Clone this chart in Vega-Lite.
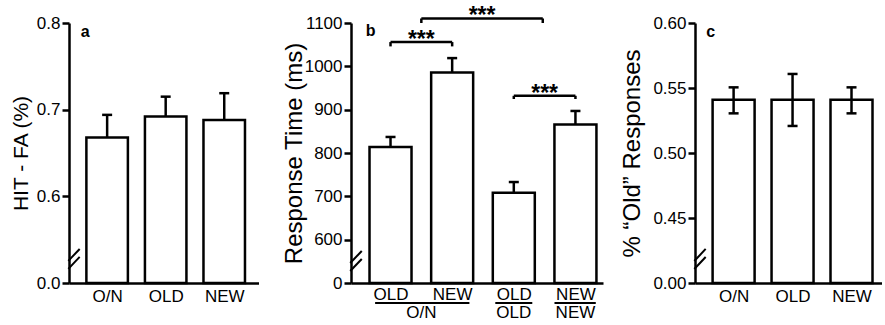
{
  "$schema": "https://vega.github.io/schema/vega-lite/v6.json",
  "padding": {"left": 10, "top": 5, "right": 0, "bottom": 0},
  "bounds": "flush",
  "spacing": 92,
  "datasets": {
    "panelA": [
      {"i": 1, "label": "O/N", "mean": 0.668, "hi": 0.694},
      {"i": 2, "label": "OLD", "mean": 0.692, "hi": 0.715},
      {"i": 3, "label": "NEW", "mean": 0.688, "hi": 0.719}
    ],
    "panelB": [
      {"i": 1, "label": "OLD", "mean": 814, "hi": 837},
      {"i": 2, "label": "NEW", "mean": 986, "hi": 1019},
      {"i": 3, "label": "OLD", "mean": 708, "hi": 733},
      {"i": 4, "label": "NEW", "mean": 866, "hi": 897}
    ],
    "groupsB": [
      {"label": "O/N", "x": 1.5, "lo": 0.75, "hi": 2.28},
      {"label": "OLD", "x": 3, "lo": 2.70, "hi": 3.30},
      {"label": "NEW", "x": 4, "lo": 3.66, "hi": 4.33}
    ],
    "bracketsB": [
      {"x1": 1, "x2": 2, "mid": 1.5, "y": 1056, "y0": 1046, "sig": "***"},
      {"x1": 1.5, "x2": 3.47, "mid": 2.485, "y": 1110.4, "y0": 1100, "sig": "***"},
      {"x1": 3, "x2": 4, "mid": 3.5, "y": 932, "y0": 924.6, "sig": "***"}
    ],
    "panelC": [
      {"i": 1, "label": "O/N", "mean": 0.541, "lo": 0.5305, "hi": 0.5505},
      {"i": 2, "label": "OLD", "mean": 0.541, "lo": 0.5208, "hi": 0.5608},
      {"i": 3, "label": "NEW", "mean": 0.541, "lo": 0.5305, "hi": 0.5505}
    ]
  },
  "hconcat": [
    {
      "width": 189.5,
      "height": 260,
      "data": {"name": "panelA"},
      "layer": [
        {
          "mark": {"type": "bar", "width": 41.5, "fill": "white", "stroke": "black", "strokeWidth": 2.5, "opacity": 1},
          "encoding": {
            "x": {"field": "i", "type": "quantitative", "scale": {"domain": [0.434, 3.5], "nice": false, "zero": false},
              "axis": {"values": [1, 2, 3], "labelExpr": "['','O/N','OLD','NEW'][datum.value]", "ticks": false, "title": null, "labelPadding": 5}},
            "y": {"field": "mean", "type": "quantitative", "scale": {"domain": [0.5, 0.8], "nice": false, "zero": false},
              "axis": {"values": [0.5, 0.6, 0.7, 0.8], "labelExpr": "datum.value < 0.55 ? '0.0' : format(datum.value, '.1f')", "title": "HIT - FA (%)", "titleFontSize": 21, "titlePadding": 5}},
            "y2": {"datum": 0.5}
          }
        },
        {
          "mark": {"type": "rule", "strokeWidth": 2.5, "color": "black", "opacity": 1},
          "encoding": {"x": {"field": "i", "type": "quantitative"}, "y": {"field": "mean", "type": "quantitative"}, "y2": {"field": "hi"}}
        },
        {
          "mark": {"type": "tick", "orient": "horizontal", "size": 10, "thickness": 2.5, "color": "black", "opacity": 1},
          "encoding": {"x": {"field": "i", "type": "quantitative"}, "y": {"field": "hi", "type": "quantitative"}}
        },
        {
          "data": {"values": [{}]},
          "mark": {"type": "text", "text": "a", "fontWeight": "bold", "fontSize": 16, "align": "left", "baseline": "middle", "color": "black"},
          "encoding": {"x": {"datum": 0.55, "type": "quantitative"}, "y": {"datum": 0.7896, "type": "quantitative"}}
        },
        {
          "data": {"values": [{}]},
          "mark": {"type": "rect", "fill": "white", "opacity": 1},
          "encoding": {"x": {"datum": 0.3855, "type": "quantitative"}, "x2": {"datum": 0.4825}, "y": {"datum": 0.5318, "type": "quantitative"}, "y2": {"datum": 0.5238}}
        },
        {
          "data": {"values": [{}]},
          "mark": {"type": "rule", "strokeWidth": 2, "color": "black", "opacity": 1},
          "encoding": {"x": {"datum": 0.337, "type": "quantitative"}, "x2": {"datum": 0.531}, "y": {"datum": 0.5255, "type": "quantitative"}, "y2": {"datum": 0.5393}}
        },
        {
          "data": {"values": [{}]},
          "mark": {"type": "rule", "strokeWidth": 2, "color": "black", "opacity": 1},
          "encoding": {"x": {"datum": 0.337, "type": "quantitative"}, "x2": {"datum": 0.531}, "y": {"datum": 0.5163, "type": "quantitative"}, "y2": {"datum": 0.5301}}
        }
      ]
    },
    {
      "width": 252,
      "height": 260,
      "data": {"name": "panelB"},
      "layer": [
        {
          "mark": {"type": "bar", "width": 42, "fill": "white", "stroke": "black", "strokeWidth": 2.5, "opacity": 1},
          "encoding": {
            "x": {"field": "i", "type": "quantitative", "scale": {"domain": [0.44, 4.366], "nice": false, "zero": false},
              "axis": {"values": [1, 2, 3, 4], "labelExpr": "['','OLD','NEW','OLD','NEW'][datum.value]", "ticks": false, "title": null, "labelPadding": 3}},
            "y": {"field": "mean", "type": "quantitative", "scale": {"domain": [500, 1100], "nice": false, "zero": false},
              "axis": {"values": [500, 600, 700, 800, 900, 1000, 1100], "labelExpr": "datum.value == 500 ? '0' : format(datum.value, 'd')", "title": "Response Time (ms)", "titleFontSize": 24, "titlePadding": -2}},
            "y2": {"datum": 500}
          }
        },
        {
          "mark": {"type": "rule", "strokeWidth": 2.5, "color": "black", "opacity": 1},
          "encoding": {"x": {"field": "i", "type": "quantitative"}, "y": {"field": "mean", "type": "quantitative"}, "y2": {"field": "hi"}}
        },
        {
          "mark": {"type": "tick", "orient": "horizontal", "size": 10, "thickness": 2.5, "color": "black", "opacity": 1},
          "encoding": {"x": {"field": "i", "type": "quantitative"}, "y": {"field": "hi", "type": "quantitative"}}
        },
        {
          "data": {"name": "bracketsB"},
          "mark": {"type": "rule", "strokeWidth": 2.5, "color": "black", "opacity": 1},
          "encoding": {"x": {"field": "x1", "type": "quantitative"}, "x2": {"field": "x2"}, "y": {"field": "y", "type": "quantitative"}}
        },
        {
          "data": {"name": "bracketsB"},
          "mark": {"type": "rule", "strokeWidth": 2.5, "color": "black", "opacity": 1},
          "encoding": {"x": {"field": "x1", "type": "quantitative"}, "y": {"field": "y", "type": "quantitative"}, "y2": {"field": "y0"}}
        },
        {
          "data": {"name": "bracketsB"},
          "mark": {"type": "rule", "strokeWidth": 2.5, "color": "black", "opacity": 1},
          "encoding": {"x": {"field": "x2", "type": "quantitative"}, "y": {"field": "y", "type": "quantitative"}, "y2": {"field": "y0"}}
        },
        {
          "data": {"name": "bracketsB"},
          "mark": {"type": "text", "fontSize": 23, "fontWeight": "bold", "align": "center", "baseline": "alphabetic", "dy": 5, "color": "black"},
          "encoding": {"x": {"field": "mid", "type": "quantitative"}, "y": {"field": "y", "type": "quantitative"}, "text": {"field": "sig"}}
        },
        {
          "data": {"name": "groupsB"},
          "mark": {"type": "text", "fontSize": 17, "align": "center", "baseline": "middle", "color": "black"},
          "encoding": {"x": {"field": "x", "type": "quantitative"}, "y": {"datum": 430.8, "type": "quantitative"}, "text": {"field": "label"}}
        },
        {
          "data": {"name": "groupsB"},
          "mark": {"type": "rule", "strokeWidth": 2, "color": "black", "opacity": 1},
          "encoding": {"x": {"field": "lo", "type": "quantitative"}, "x2": {"field": "hi"}, "y": {"datum": 453.8, "type": "quantitative"}}
        },
        {
          "data": {"values": [{}]},
          "mark": {"type": "text", "text": "b", "fontWeight": "bold", "fontSize": 16, "align": "left", "baseline": "middle", "color": "black"},
          "encoding": {"x": {"datum": 0.6, "type": "quantitative"}, "y": {"datum": 1081.5, "type": "quantitative"}}
        },
        {
          "data": {"values": [{}]},
          "mark": {"type": "rect", "fill": "white", "opacity": 1},
          "encoding": {"x": {"datum": 0.3933, "type": "quantitative"}, "x2": {"datum": 0.4867}, "y": {"datum": 558.85, "type": "quantitative"}, "y2": {"datum": 542.7}}
        },
        {
          "data": {"values": [{}]},
          "mark": {"type": "rule", "strokeWidth": 2, "color": "black", "opacity": 1},
          "encoding": {"x": {"datum": 0.3465, "type": "quantitative"}, "x2": {"datum": 0.5335}, "y": {"datum": 546.15, "type": "quantitative"}, "y2": {"datum": 573.85}}
        },
        {
          "data": {"values": [{}]},
          "mark": {"type": "rule", "strokeWidth": 2, "color": "black", "opacity": 1},
          "encoding": {"x": {"datum": 0.3465, "type": "quantitative"}, "x2": {"datum": 0.5335}, "y": {"datum": 527.65, "type": "quantitative"}, "y2": {"datum": 555.35}}
        }
      ]
    },
    {
      "width": 186.5,
      "height": 260,
      "data": {"name": "panelC"},
      "layer": [
        {
          "mark": {"type": "bar", "width": 42, "fill": "white", "stroke": "black", "strokeWidth": 2.5, "opacity": 1},
          "encoding": {
            "x": {"field": "i", "type": "quantitative", "scale": {"domain": [0.43, 3.424], "nice": false, "zero": false},
              "axis": {"values": [1, 2, 3], "labelExpr": "['','O/N','OLD','NEW'][datum.value]", "ticks": false, "title": null, "labelPadding": 5}},
            "y": {"field": "mean", "type": "quantitative", "scale": {"domain": [0.40, 0.60], "nice": false, "zero": false},
              "axis": {"values": [0.40, 0.45, 0.50, 0.55, 0.60], "labelExpr": "datum.value < 0.42 ? '0.00' : format(datum.value, '.2f')", "title": "% “Old” Responses", "titleFontSize": 24, "titlePadding": 8}},
            "y2": {"datum": 0.40}
          }
        },
        {
          "mark": {"type": "rule", "strokeWidth": 2.5, "color": "black", "opacity": 1},
          "encoding": {"x": {"field": "i", "type": "quantitative"}, "y": {"field": "lo", "type": "quantitative"}, "y2": {"field": "hi"}}
        },
        {
          "mark": {"type": "tick", "orient": "horizontal", "size": 10, "thickness": 2.5, "color": "black", "opacity": 1},
          "encoding": {"x": {"field": "i", "type": "quantitative"}, "y": {"field": "hi", "type": "quantitative"}}
        },
        {
          "mark": {"type": "tick", "orient": "horizontal", "size": 10, "thickness": 2.5, "color": "black", "opacity": 1},
          "encoding": {"x": {"field": "i", "type": "quantitative"}, "y": {"field": "lo", "type": "quantitative"}}
        },
        {
          "data": {"values": [{}]},
          "mark": {"type": "text", "text": "c", "fontWeight": "bold", "fontSize": 16, "align": "left", "baseline": "middle", "color": "black"},
          "encoding": {"x": {"datum": 0.535, "type": "quantitative"}, "y": {"datum": 0.593, "type": "quantitative"}}
        },
        {
          "data": {"values": [{}]},
          "mark": {"type": "rect", "fill": "white", "opacity": 1},
          "encoding": {"x": {"datum": 0.3818, "type": "quantitative"}, "x2": {"datum": 0.4782}, "y": {"datum": 0.4212, "type": "quantitative"}, "y2": {"datum": 0.4158}}
        },
        {
          "data": {"values": [{}]},
          "mark": {"type": "rule", "strokeWidth": 2, "color": "black", "opacity": 1},
          "encoding": {"x": {"datum": 0.3337, "type": "quantitative"}, "x2": {"datum": 0.5263}, "y": {"datum": 0.4169, "type": "quantitative"}, "y2": {"datum": 0.4262}}
        },
        {
          "data": {"values": [{}]},
          "mark": {"type": "rule", "strokeWidth": 2, "color": "black", "opacity": 1},
          "encoding": {"x": {"datum": 0.3337, "type": "quantitative"}, "x2": {"datum": 0.5263}, "y": {"datum": 0.4108, "type": "quantitative"}, "y2": {"datum": 0.4200}}
        }
      ]
    }
  ],
  "config": {
    "view": {"stroke": null},
    "font": "Liberation Sans",
    "axis": {
      "domainColor": "black", "domainWidth": 2.5, "tickColor": "black", "tickWidth": 2.5, "tickSize": 7,
      "labelColor": "black", "labelFontSize": 17, "labelPadding": 2, "titleColor": "black", "titleFontWeight": "normal", "grid": false
    }
  }
}
